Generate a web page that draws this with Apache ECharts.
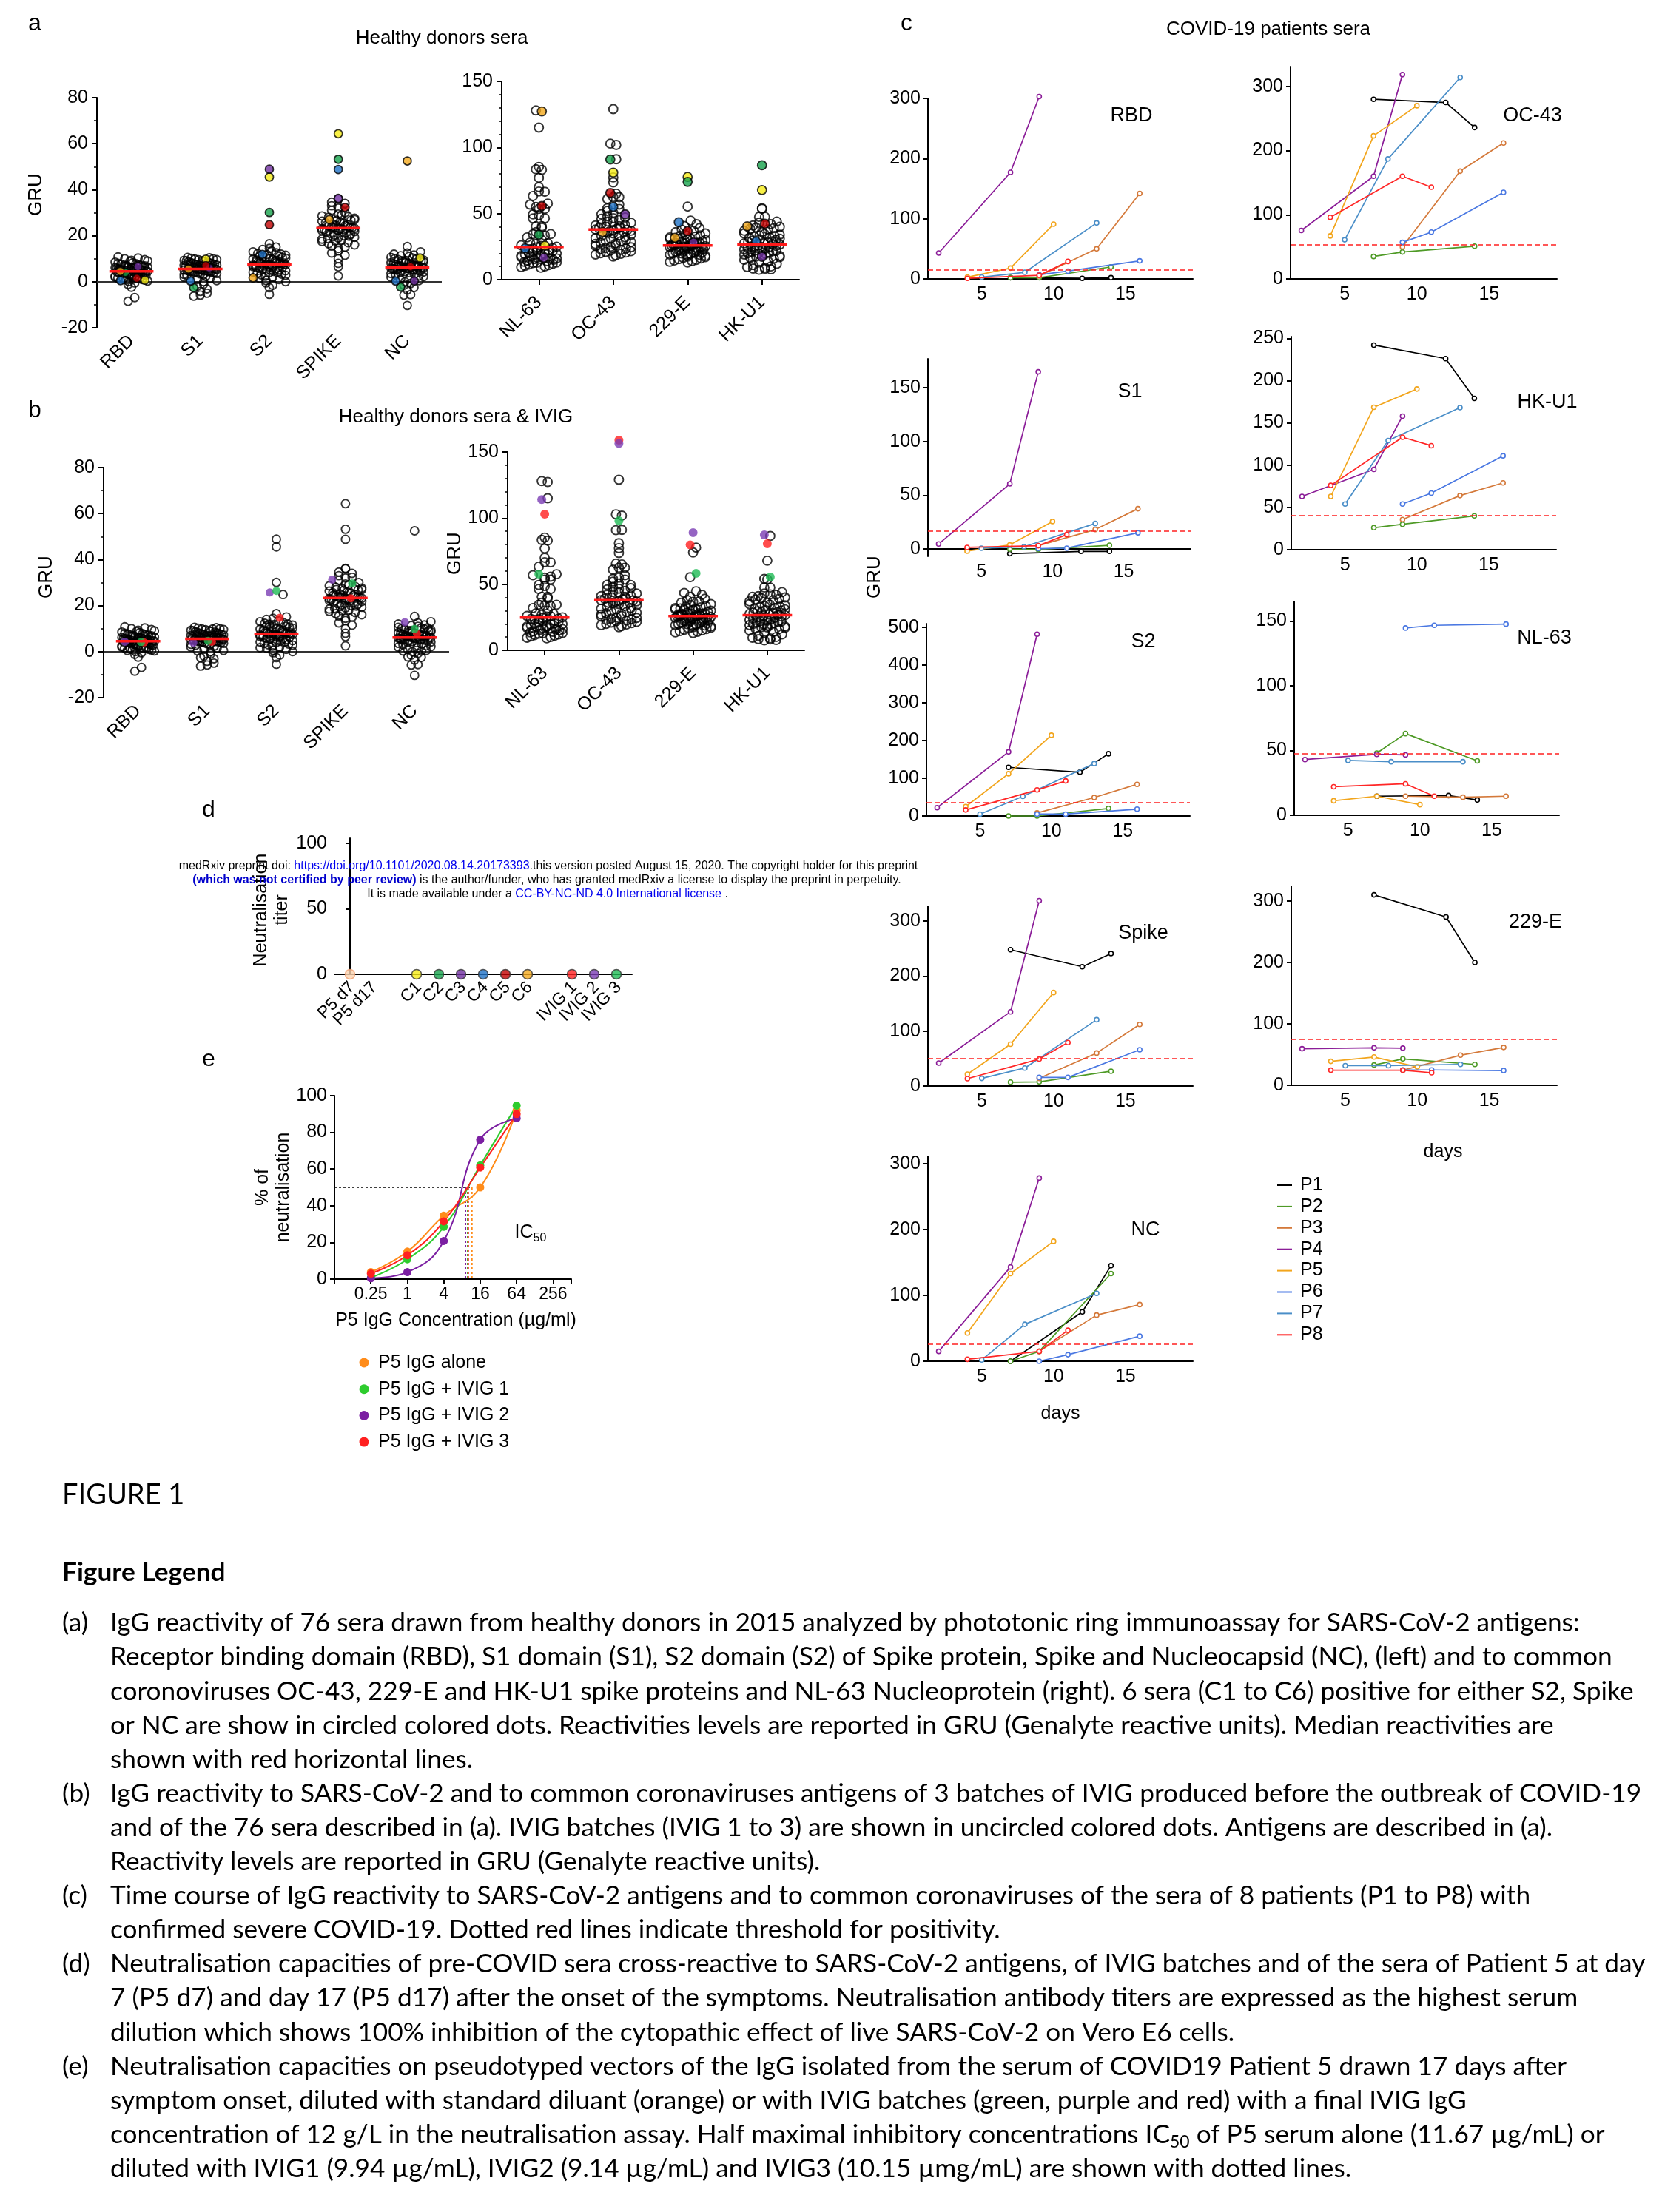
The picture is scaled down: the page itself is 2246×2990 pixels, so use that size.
<!DOCTYPE html>
<html><head><meta charset="utf-8">
<script src="https://cdn.jsdelivr.net/npm/echarts@6/dist/echarts.min.js"></script>
<style>html,body{margin:0;padding:0;background:#fff}#c{width:2246px;height:2990px}</style>
</head><body><div id="c"></div><script>
// ================= DATA =================
const catsSARS = ['RBD','S1','S2','SPIKE','NC'];
const catsCommon = ['NL-63','OC-43','229-E','HK-U1'];
// open circles (healthy donor sera without C1-C6), GRU
const openRBD = [-8.5,-6.9,-2.4,-1.2,-0.5,0,0.3,0.8,1,1.2,1.5,1.6,1.8,2,2.2,2.4,2.6,2.8,2.9,3,3.1,3.3,3.4,3.5,3.6,3.8,3.9,4,4.1,4.2,4.3,4.4,4.5,4.6,4.7,4.8,4.9,5,5.1,5.2,5.3,5.4,5.5,5.6,5.7,5.8,6,6.1,6.2,6.3,6.4,6.5,6.7,6.9,7,7.1,7.2,7.4,7.6,7.8,8,8.2,8.5,8.8,9,9.3,9.6,10,10.3,10.8];
const openS1 = [-6.3,-5.8,-5,-4.2,-3.1,-2,-1,0,0.5,1,1.5,2,2.4,2.8,3,3.2,3.4,3.6,3.8,4,4.1,4.2,4.3,4.4,4.5,4.6,4.7,4.8,4.9,5,5.1,5.2,5.3,5.4,5.5,5.6,5.7,5.8,5.9,6,6.1,6.2,6.3,6.4,6.5,6.6,6.8,7,7.1,7.2,7.4,7.5,7.6,7.8,8,8.1,8.3,8.5,8.6,8.8,9,9.1,9.3,9.5,9.6,9.8,10,10.2,10.4,10.6];
const openS2 = [-5.5,-2.6,-1.5,-0.5,0,0.5,1,1.5,2,2.4,2.8,3,3.3,3.6,3.9,4.2,4.5,4.8,5,5.2,5.4,5.6,5.8,6,6.2,6.4,6.6,6.8,7,7.1,7.2,7.3,7.4,7.5,7.6,7.7,7.8,7.9,8,8.2,8.4,8.6,8.8,9,9.2,9.4,9.6,9.8,10,10.2,10.4,10.6,10.8,11,11.2,11.5,11.8,12,12.3,12.6,13,13.4,14,14.5,15.1,16.5,6.1,6.9,8.1,4];
const openSPIKE = [2.5,6.5,8,10,11.5,12.5,13.5,14.5,15,15.5,16,16.5,17,17.5,18,18.5,19,19.3,19.6,20,20.3,20.6,21,21.3,21.6,22,22.2,22.4,22.6,22.8,23,23.1,23.2,23.3,23.4,23.5,23.6,23.8,24,24.2,24.4,24.6,24.8,25,25.3,25.6,26,26.3,26.6,27,27.3,27.6,28,28.3,28.6,29,29.4,30,31,32,33,34,34.6,36,21.8,24.5,19.8,18.8,26.8,17.8];
const openNC = [-10.3,-5.8,-5.6,-3.6,-2.5,-1.5,-0.8,0,0.5,1,1.5,2,2.5,3,3.3,3.6,3.9,4.2,4.4,4.6,4.8,5,5.1,5.2,5.3,5.4,5.5,5.6,5.7,5.8,5.9,6,6.1,6.2,6.3,6.4,6.5,6.6,6.7,6.8,6.9,7,7.2,7.4,7.6,7.8,8,8.2,8.4,8.6,8.8,9,9.2,9.4,9.6,9.8,10,10.3,10.6,11,11.3,11.6,12,12.5,13,15.3,2.2,4,7.1,9.1];
const openNL63 = [128,115,85.3,83.5,83,77,70,66.7,66.5,63.3,57.6,56.8,55,53.5,53.5,49.4,48.6,46.4,46.4,40.4,40.4,39.3,36,34.5,34.5,33.5,32,30,28,27,26,25.5,25,24.5,24,23,22.5,22,21.5,21,20.5,20,19.5,19,18.5,18,17.5,17,16.5,16,15.5,15,14.5,14,13.5,13,12.5,12,11.5,11,10.5,10,9.5,9,27.5,23.5,19.8,17.8,15.8,12.8];
const openOC43 = [129,102.9,101.9,91.1,77.3,73.6,65,62.4,62.4,61,56.8,54,53.5,52,50.5,49.5,48,47,46,45,44,43,42,41.5,41,40.5,40,39.5,39,38.5,38,37.5,37,36.5,36,35,34,33,32,31,30,29.5,29,28,27.5,27,26,25.5,25,24.5,24,23.5,23,22.5,22,21.5,21,20.5,20,19.5,19,18.3,17.5,43.5,37.8,33.5,28.5,35.5,46.5,31.5];
const open229E = [55.3,44.7,42,40.5,39,38,37,36,35,34,33.5,33,32.5,32,31.5,31,30.5,30,29.5,29,28.5,28,27.8,27.5,27.2,27,26.8,26.5,26.3,26,25.8,25.5,25.3,25,24.8,24.5,24.2,24,23.5,23,22.5,22,21.5,21,20.5,20,19.5,19,18.5,18,17.5,17,16.5,16,15.5,15,14.5,14,13.5,13,26.2,25.6,24.6,23.8,22.8,21.8,20.8,19.8,18.8,30.8];
const openHKU1 = [54,53.5,47.5,47.5,44,43,42,41,40,39.5,39,38.5,38,37,36,35,34.5,34,33.5,33,32.5,32,31.5,31,30.5,30,29.5,29,28.5,28,27.5,27,26.5,26,25.5,25,24.5,24,23.5,23,22.5,22,21.5,21,20.5,20,19.5,19,18.5,18,17.5,17,16.5,16,15,14,13,12,11,10,9.5,9,8.4,8.2,7.8,7.5,26.8,24.8,21.8,19.8];
// cross-reactive sera C1..C6
const seraLabels = ['C1','C2','C3','C4','C5','C6'];
const seraRBD = [0.7,4,6.5,0.5,1.5,4.5];
const seraS1 = [9.8,-2.6,6,0.3,7,5.5];
const seraS2 = [45.5,30.1,48.9,11.9,24.8,1.7];
const seraSPIKE = [64.3,53.2,36.2,48.8,32.3,27];
const seraNC = [10.3,-2.3,0.3,0.3,6.5,52.5];
const seraNL63 = [25.7,33.9,16.6,23.7,55.7,127.3];
const seraOC43 = [81,90.9,49.4,55,65.6,36];
const sera229E = [77.7,74,28,43.4,36.7,31.7];
const seraHKU1 = [67.8,86.5,17.3,28.9,42.3,40.4];
// IVIG batches 1..3
const ivigLabels = ['IVIG 1','IVIG 2','IVIG 3'];
const ivigRBD = [4,4.3,4.2];
const ivigS1 = [4.3,3.9,4.7];
const ivigS2 = [14.7,25.7,26.4];
const ivigSPIKE = [23.2,31.3,29.7];
const ivigNC = [7.7,12.8,9.9];
const ivigNL63 = [103,114,57.6];
const ivigOC43 = [159,156.5,98];
const ivig229E = [79.7,89,58.2];
const ivigHKU1 = [80.6,87.3,55.4];
// COVID-19 patients time course (days after onset)
const patients = ['P1','P2','P3','P4','P5','P6','P7','P8'];
const patientDays = [[7,12,14],[7,9,14],[9,13,16],[2,7,9],[4,7,10],[9,11,16],[5,8,13],[4,9,11]];
const rbdByPatient = [[2,1,2],[2,2,20],[5,50,142],[43,177,303],[3,18,91],[7,13,30],[3,11,93],[1,6,29]];
const s1ByPatient = [[-4.4,-2.3,-2.3],[-0.2,-0.5,3.4],[3,18,37.4],[4.6,60.5,164.7],[-2,3.7,25.5],[0.3,0.7,15],[0.7,2,23.6],[1.4,3,13.3]];
const s2ByPatient = [[129,116,165],[0,0,20],[8,49,84],[22,170,482],[25,112,214],[5,5,18],[5,52,139],[16,69,93]];
const spikeByPatient = [[248,217,241],[7,7.6,27],[14,60,112],[41.7,135,337],[21.5,76,170],[15.7,15.7,66],[14,32.7,120.6],[13.5,49,79]];
const ncByPatient = [[0,75,145],[0,15,133],[15,70,86],[15,143,278],[43,133,182],[0,10,38],[2,56,103],[3,15,47]];
const oc43ByPatient = [[280,275,236],[35,42,51],[50,168,212],[75.6,160,318.5],[67,223,270],[57,73,135],[61,187,314],[96,160,143]];
const hku1ByPatient = [[242,226,179],[26,30,40],[35.6,64,79],[63,95,158],[63,168.5,190],[54,67,111],[54,129,168],[76,133,123]];
const nl63ByPatient = [[14.7,15.2,11.8],[48,63,42],[14.7,13.9,14.7],[43,47,46.6],[11.2,14.7,8.2],[144.5,146.6,147.5],[42.3,41.3,41.3],[22,24.3,14.7]];
const e229ByPatient = [[310,274,200],[33,43,34],[24.6,49,61.6],[59.5,61,60.4],[39,46,30],[25,25,24],[32,32,34],[24.6,24.6,20.5]];
const thresholds = [14.8,16.7,35,49.8,26,53,40.9,47.4,75.3]; // RBD,S1,S2,Spike,NC,OC-43,HK-U1,NL-63,229-E
// panel d
const neutCats = ['P5 d7','P5 d17','','C1','C2','C3','C4','C5','C6','','IVIG 1','IVIG 2','IVIG 3'];
const neutTiters = [0,null,null,0,0,0,0,0,0,null,0,0,0];
// panel e
const concentrations = [0.25,1,4,16,64];
const neutAlone = [3.8,15,34.6,50,92];
const neutIVIG1 = [0.8,10.8,28.5,62,94.6];
const neutIVIG2 = [0.5,3.8,20.8,76,87.7];
const neutIVIG3 = [3,13,31.5,60.8,90];
const ic50 = [11.67,9.94,9.14,10.15];
const eSeriesNames = ['P5 IgG alone','P5 IgG + IVIG 1','P5 IgG + IVIG 2','P5 IgG + IVIG 3'];

// ================= STYLES =================
const FONT = '"Liberation Sans", Arial, Helvetica, sans-serif';
const seraColors = ['#f6ec16','#17a34c','#7030a0','#1f72c6','#c00000','#f4aa1e'];
const ivigColors = ['#ff1f1f','#7a3db4','#1fba55'];
const patientColors = ['#000000','#4e9a26','#d4793a','#8b1d98','#f2a51c','#4a78e2','#4a8ec8','#ff2626'];
const eColors = ['#ff8c1a','#2ecc2e','#7b1fa2','#ff2020'];

const grids=[], xAxes=[], yAxes=[], series=[], graphics=[];

function median(a){const s=a.slice().sort((x,y)=>x-y);const n=s.length;return n%2?s[(n-1)/2]:(s[n/2-1]+s[n/2])/2;}
function swarm(vals, pxPerUnit, step, halfW, binH){
  const order = vals.map((v,i)=>i).sort((a,b)=>vals[a]-vals[b]);
  const groups = new Map();
  order.forEach(i=>{const b=Math.floor(vals[i]*pxPerUnit/binH); if(!groups.has(b)) groups.set(b,[]); groups.get(b).push(i);});
  const off = new Array(vals.length).fill(0);
  groups.forEach(arr=>{
    arr.sort((a,b)=>((a*37)%79)-((b*37)%79));
    const n=arr.length; const st = n>1?Math.min(step,2*halfW/(n-1)):0;
    arr.forEach((i,k)=>{off[i]=(k-(n-1)/2)*st;});
  });
  return off;
}
function mkTxt(text,x,y,size,o){o=o||{};
  const st={text:text,fontSize:size,fontFamily:o.family||FONT,fontWeight:o.weight||'normal',fill:o.color||'#000',
    align:o.align||'center',verticalAlign:o.valign||'middle',textAlign:o.align||'center',textVerticalAlign:o.valign||'middle'};
  if(o.rich) st.rich=o.rich; if(o.lineHeight) st.lineHeight=o.lineHeight;
  return {type:'text',x:x,y:y,rotation:o.rot||0,z:100,style:st};
}
function txt(text,x,y,size,o){ graphics.push(mkTxt(text,x,y,size,o)); }
const axisStyle={color:'#000',width:2};

function buildScatter(p){
  const gi=grids.length; const n=p.cats.length;
  grids.push({left:p.left,top:p.top,width:p.width,height:p.height});
  const centers=p.cats.map((c,i)=>i+0.5);
  xAxes.push({gridIndex:gi,type:'value',min:0,max:n,
    axisLine:{show:p.xLine,onZero:false,lineStyle:axisStyle},
    axisTick:{show:p.xLine,customValues:centers,length:7,lineStyle:axisStyle},
    axisLabel:{customValues:centers,showMinLabel:true,showMaxLabel:true,formatter:v=>p.cats[Math.round(v-0.5)],rotate:45,fontSize:25,fontFamily:FONT,color:'#000',margin:p.labelMargin},
    splitLine:{show:false}});
  yAxes.push({gridIndex:gi,type:'value',min:p.ymin,max:p.ymax,interval:p.interval,
    axisLine:{show:true,lineStyle:axisStyle},
    axisTick:{show:true,length:7,lineStyle:axisStyle},
    minorTick:{show:true,splitNumber:p.minorSplit,length:4,lineStyle:{color:'#000',width:1.5}},
    axisLabel:{fontSize:25,fontFamily:FONT,color:'#000',margin:12},
    splitLine:{show:false}});
  const ppu=p.height/(p.ymax-p.ymin), band=p.width/n;
  const openPts=[], colPts=[];
  p.cats.forEach((c,ci)=>{
    const o=p.open[ci], s=p.sera[ci], iv=p.ivig?p.ivig[ci]:[];
    const all=o.concat(s,iv);
    const off=swarm(all,ppu,p.step,p.halfW,p.binH);
    all.forEach((v,k)=>{
      const x=ci+0.5+off[k]/band;
      if(k<o.length) openPts.push([x,v]);
      else if(k<o.length+s.length){
        if(p.seraColored) colPts.push({value:[x,v],itemStyle:{color:seraColors[k-o.length],borderColor:'#000',borderWidth:1.8}});
        else openPts.push([x,v]);
      } else colPts.push({value:[x,v],itemStyle:{color:ivigColors[k-o.length-s.length],borderWidth:0}});
    });
  });
  const ser={type:'scatter',xAxisIndex:gi,yAxisIndex:gi,data:openPts,symbolSize:p.dia,clip:false,z:3,
    itemStyle:{color:'rgba(255,255,255,0)',borderColor:'#000',borderWidth:1.9}};
  if(p.zeroLine) ser.markLine={silent:true,symbol:['none','none'],label:{show:false},lineStyle:{color:'#333',width:2,type:'solid'},data:[{yAxis:0}],z:1};
  series.push(ser);
  series.push({type:'scatter',xAxisIndex:gi,yAxisIndex:gi,data:colPts,symbolSize:p.dia,clip:false,z:5});
  const meds=p.cats.map((c,ci)=>[ci,median(p.open[ci].concat(p.sera[ci]))]);
  series.push({type:'custom',xAxisIndex:gi,yAxisIndex:gi,z:6,data:meds,renderItem:(params,api)=>{
    const i=api.value(0), m=api.value(1); const a=api.coord([i+0.5-p.medHalf,m]), b=api.coord([i+0.5+p.medHalf,m]);
    return {type:'line',shape:{x1:a[0],y1:a[1],x2:b[0],y2:b[1]},style:{stroke:'#ff1a1a',lineWidth:3.5}};}});
}

function buildLines(p){
  const gi=grids.length;
  grids.push({left:p.left,top:p.top,width:p.width,height:p.height});
  xAxes.push({gridIndex:gi,type:'value',min:1.25,max:19.7,
    axisLine:{show:true,onZero:true,lineStyle:axisStyle},axisTick:{show:false},
    axisLabel:{customValues:[5,10,15],fontSize:25,fontFamily:FONT,color:'#000',margin:9},splitLine:{show:false}});
  yAxes.push({gridIndex:gi,type:'value',min:p.min,max:p.max,
    axisLine:{show:true,lineStyle:axisStyle},
    axisTick:{show:true,customValues:p.ticks,length:6,lineStyle:axisStyle},
    axisLabel:{customValues:p.ticks,fontSize:25,fontFamily:FONT,color:'#000',margin:10},splitLine:{show:false}});
  patients.forEach((pn,pi)=>{
    const s={type:'line',name:pn,xAxisIndex:gi,yAxisIndex:gi,clip:false,z:3+pi*0.01,
      data:patientDays[pi].map((d,k)=>[d,p.vals[pi][k]]),
      symbol:'circle',symbolSize:6,showSymbol:true,
      lineStyle:{color:patientColors[pi],width:1.7},
      itemStyle:{color:'#fff',borderColor:patientColors[pi],borderWidth:1.6}};
    if(pi===0) s.markLine={silent:true,symbol:['none','none'],label:{show:false},
      lineStyle:{color:'#ff2020',width:1.7,type:[7,4]},data:[{yAxis:p.thr}]};
    series.push(s);
  });
  txt(p.label,p.lx,p.ly,27);
}

// ---------- Panel a ----------
buildScatter({left:131,top:132,width:466,height:311,ymin:-20,ymax:80,interval:20,minorSplit:2,cats:catsSARS,
  open:[openRBD,openS1,openS2,openSPIKE,openNC],sera:[seraRBD,seraS1,seraS2,seraSPIKE,seraNC],ivig:null,seraColored:true,
  xLine:false,zeroLine:true,labelMargin:14,dia:11,step:9,halfW:22,binH:7,medHalf:0.32});
buildScatter({left:678,top:110,width:402,height:268,ymin:0,ymax:150,interval:50,minorSplit:5,cats:catsCommon,
  open:[openNL63,openOC43,open229E,openHKU1],sera:[seraNL63,seraOC43,sera229E,seraHKU1],ivig:null,seraColored:true,
  xLine:true,zeroLine:false,labelMargin:27,dia:12,step:8,halfW:24,binH:8,medHalf:1/3});
// ---------- Panel b ----------
buildScatter({left:140,top:632,width:467,height:311,ymin:-20,ymax:80,interval:20,minorSplit:2,cats:catsSARS,
  open:[openRBD,openS1,openS2,openSPIKE,openNC],sera:[seraRBD,seraS1,seraS2,seraSPIKE,seraNC],
  ivig:[ivigRBD,ivigS1,ivigS2,ivigSPIKE,ivigNC],seraColored:false,
  xLine:false,zeroLine:true,labelMargin:14,dia:11,step:9,halfW:22,binH:7,medHalf:0.32});
buildScatter({left:686,top:611,width:401,height:268,ymin:0,ymax:150,interval:50,minorSplit:5,cats:catsCommon,
  open:[openNL63,openOC43,open229E,openHKU1],sera:[seraNL63,seraOC43,sera229E,seraHKU1],
  ivig:[ivigNL63,ivigOC43,ivig229E,ivigHKU1],seraColored:false,
  xLine:true,zeroLine:false,labelMargin:27,dia:12,step:8,halfW:24,binH:8,medHalf:1/3});

// ---------- Panel c ----------
buildLines({label:'RBD',vals:rbdByPatient,thr:thresholds[0],left:1254,top:133,width:358,height:244,min:0,max:300,ticks:[0,100,200,300],lx:1529,ly:157});
buildLines({label:'S1',vals:s1ByPatient,thr:thresholds[1],left:1254,top:485,width:355,height:267,min:-6.9,max:176.8,ticks:[0,50,100,150],lx:1527,ly:530});
buildLines({label:'S2',vals:s2ByPatient,thr:thresholds[2],left:1252,top:843,width:356,height:260,min:0,max:510,ticks:[0,100,200,300,400,500],lx:1545,ly:868});
buildLines({label:'Spike',vals:spikeByPatient,thr:thresholds[3],left:1254,top:1225,width:358,height:243,min:0,max:327,ticks:[0,100,200,300],lx:1545,ly:1262});
buildLines({label:'NC',vals:ncByPatient,thr:thresholds[4],left:1254,top:1563,width:358,height:277,min:0,max:311,ticks:[0,100,200,300],lx:1548,ly:1663});
buildLines({label:'OC-43',vals:oc43ByPatient,thr:thresholds[5],left:1744,top:90,width:360,height:287,min:0,max:331,ticks:[0,100,200,300],lx:2071,ly:157});
buildLines({label:'HK-U1',vals:hku1ByPatient,thr:thresholds[6],left:1745,top:455,width:358,height:288,min:0,max:252,ticks:[0,50,100,150,200,250],lx:2091,ly:544});
buildLines({label:'NL-63',vals:nl63ByPatient,thr:thresholds[7],left:1749,top:813,width:358,height:289,min:0,max:165,ticks:[0,50,100,150],lx:2087,ly:863});
buildLines({label:'229-E',vals:e229ByPatient,thr:thresholds[8],left:1745,top:1198,width:359,height:269,min:0,max:324,ticks:[0,100,200,300],lx:2075,ly:1247});

// ---------- Panel d ----------
const dGrid = grids.length;
(function(){
  const gi=dGrid;
  grids.push({left:452,top:1133,width:402,height:184});
  xAxes.push({gridIndex:gi,type:'value',min:-0.7,max:12.7,axisLine:{show:true,onZero:false,lineStyle:axisStyle},axisTick:{show:false},
    axisLabel:{show:false},splitLine:{show:false}});
  yAxes.push({gridIndex:gi,type:'value',min:0,max:104,axisLine:{show:true,lineStyle:axisStyle},
    axisTick:{show:true,customValues:[0,50,100],length:6,lineStyle:axisStyle},
    axisLabel:{customValues:[0,50,100],fontSize:25,fontFamily:FONT,color:'#000',margin:10},splitLine:{show:false}});
  const cols=['#fbd3b0',null,null].concat(seraColors,[null],ivigColors);
  const data=[];
  neutTiters.forEach((v,i)=>{ if(v!==null) data.push({value:[i,v],itemStyle:{color:cols[i],borderColor:i===0?'#f0a070':'#333',borderWidth:1.5}}); });
  series.push({type:'scatter',xAxisIndex:gi,yAxisIndex:gi,data:data,symbolSize:13,clip:false,z:5});
})();

// ---------- Panel e ----------
(function(){
  const gi=grids.length;
  grids.push({left:452,top:1481,width:320,height:248});
  const L=[0.25,1,4,16,64,256];
  xAxes.push({gridIndex:gi,type:'log',logBase:4,min:0.0625,max:512,axisLine:{show:true,onZero:false,lineStyle:axisStyle},
    axisTick:{show:true,length:6,lineStyle:axisStyle},minorTick:{show:false},
    axisLabel:{fontSize:23,fontFamily:FONT,color:'#000',margin:9,formatter:v=>{const f=L.find(l=>Math.abs(Math.log(v/l))<1e-4);return f===undefined?'':String(f);}},
    splitLine:{show:false}});
  yAxes.push({gridIndex:gi,type:'value',min:0,max:100,interval:20,axisLine:{show:true,lineStyle:axisStyle},
    axisTick:{show:true,length:6,lineStyle:axisStyle},axisLabel:{fontSize:25,fontFamily:FONT,color:'#000',margin:10},splitLine:{show:false}});
  const sets=[neutAlone,neutIVIG1,neutIVIG2,neutIVIG3];
  sets.forEach((s,si)=>{
    series.push({type:'line',name:eSeriesNames[si],xAxisIndex:gi,yAxisIndex:gi,smooth:0.45,clip:false,z:4,
      data:concentrations.map((c,k)=>[c,s[k]]),symbol:'circle',symbolSize:11,
      lineStyle:{color:eColors[si],width:2},itemStyle:{color:eColors[si],borderWidth:0}});
  });
  series.push({type:'line',xAxisIndex:gi,yAxisIndex:gi,data:[[0.0625,50],[Math.max.apply(null,ic50),50]],symbol:'none',z:3,
    lineStyle:{color:'#000',width:1.5,type:[3,3]}});
  ic50.forEach((v,i)=>series.push({type:'line',xAxisIndex:gi,yAxisIndex:gi,data:[[v,50],[v,0]],symbol:'none',z:3,
    lineStyle:{color:eColors[i],width:2,type:[3,3]}}));
})();

// ================= TEXT =================
txt('a',47,32,32); txt('b',47,555,32); txt('c',1225,32,32); txt('d',282,1095,32); txt('e',282,1432,32);
txt('Healthy donors sera',597,52,26);
txt('Healthy donors sera & IVIG',616,564,26);
txt('COVID-19 patients sera',1714,40,26);
txt('GRU',49,263,26,{rot:Math.PI/2});
txt('GRU',63,780,26,{rot:Math.PI/2});
txt('GRU',615,748,26,{rot:Math.PI/2});
txt('GRU',1182,780,26,{rot:Math.PI/2});
txt('days',1433,1911,25); txt('days',1950,1557,25);
patients.forEach((pn,i)=>{const y=1602+i*28.9;
  graphics.push({type:'line',z:100,shape:{x1:1726,y1:y,x2:1746,y2:y},style:{stroke:patientColors[i],lineWidth:2}});
  txt(pn,1757,y,25,{align:'left'});});
txt('Neutralisation',353,1230,25,{rot:Math.PI/2});
txt('titer',381,1230,25,{rot:Math.PI/2});
txt('% of',355,1605,25,{rot:Math.PI/2});
txt('neutralisation',383,1605,25,{rot:Math.PI/2});
txt('P5 IgG Concentration (µg/ml)',616,1785,25);
txt('IC{s|50}',717,1666,25,{lineHeight:32,rich:{s:{fontSize:16,lineHeight:16,verticalAlign:'bottom',fontFamily:FONT,fill:'#000'}}});
eSeriesNames.forEach((nm,i)=>{const y=1842+i*35.7;
  graphics.push({type:'circle',z:100,shape:{cx:492,cy:y,r:6.5},style:{fill:eColors[i]}});
  txt(nm,511,y,25,{align:'left'});});
// medRxiv header
const wm1='medRxiv preprint doi: {b|https://doi.org/10.1101/2020.08.14.20173393}.this version posted August 15, 2020. The copyright holder for this preprint';
const wm2='{bb|(which was not certified by peer review)} is the author/funder, who has granted medRxiv a license to display the preprint in perpetuity.';
const wm3='It is made available under a {b|CC-BY-NC-ND 4.0 International license} .';
const wmRich={b:{fill:'#0000ee',fontSize:16,fontFamily:FONT},bb:{fill:'#0000cc',fontSize:16,fontFamily:FONT,fontWeight:'bold'}};
txt(wm1,741,1171,16,{rich:wmRich}); txt(wm2,739,1190,16,{rich:wmRich}); txt(wm3,740,1209,16,{rich:wmRich});
// Figure legend
const LF='Lato, "Open Sans", sans-serif';
const legendLines=[
['(a)','IgG reactivity of 76 sera drawn from healthy donors in 2015 analyzed by phototonic ring immunoassay for SARS-CoV-2 antigens:'],
['','Receptor binding domain (RBD), S1 domain (S1), S2 domain (S2) of Spike protein, Spike and Nucleocapsid (NC), (left) and to common'],
['','coronoviruses OC-43, 229-E and HK-U1 spike proteins and NL-63 Nucleoprotein (right). 6 sera (C1 to C6) positive for either S2, Spike'],
['','or NC are show in circled colored dots. Reactivities levels are reported in GRU (Genalyte reactive units). Median reactivities are'],
['','shown with red horizontal lines.'],
['(b)','IgG reactivity to SARS-CoV-2 and to common coronaviruses antigens of 3 batches of IVIG produced before the outbreak of COVID-19'],
['','and of the 76 sera described in (a). IVIG batches (IVIG 1 to 3) are shown in uncircled colored dots. Antigens are described in (a).'],
['','Reactivity levels are reported in GRU (Genalyte reactive units).'],
['(c)','Time course of IgG reactivity to SARS-CoV-2 antigens and to common coronaviruses of the sera of 8 patients (P1 to P8) with'],
['','confirmed severe COVID-19. Dotted red lines indicate threshold for positivity.'],
['(d)','Neutralisation capacities of pre-COVID sera cross-reactive to SARS-CoV-2 antigens, of IVIG batches and of the sera of Patient 5 at day'],
['','7 (P5 d7) and day 17 (P5 d17) after the onset of the symptoms. Neutralisation antibody titers are expressed as the highest serum'],
['','dilution which shows 100% inhibition of the cytopathic effect of live SARS-CoV-2 on Vero E6 cells.'],
['(e)','Neutralisation capacities on pseudotyped vectors of the IgG isolated from the serum of COVID19 Patient 5 drawn 17 days after'],
['','symptom onset, diluted with standard diluant (orange) or with IVIG batches (green, purple and red) with a final IVIG IgG'],
['','concentration of 12 g/L in the neutralisation assay. Half maximal inhibitory concentrations IC{s|50} of P5 serum alone (11.67 µg/mL) or'],
['','diluted with IVIG1 (9.94 µg/mL), IVIG2 (9.14 µg/mL) and IVIG3 (10.15 µmg/mL) are shown with dotted lines.']];
const cv=document.createElement('canvas').getContext('2d');
cv.font='100px '+LF;
let maxW=0; legendLines.forEach(l=>{maxW=Math.max(maxW,cv.measureText(l[1].replace('{s|50}','50')).width);});
const LS=Math.min(40,100*2075/maxW);
legendLines.forEach((l,i)=>{const y=2194+i*46.1;
  if(l[0]) txt(l[0],84,y,LS,{align:'left',family:LF});
  txt(l[1],149,y,LS,{align:'left',family:LF,lineHeight:LS*1.25,rich:{s:{fontSize:LS*0.65,lineHeight:LS*0.65,verticalAlign:'bottom',fontFamily:LF,fill:'#000'}}});});
txt('FIGURE 1',84,2021,38,{align:'left',family:LF});
txt('Figure Legend',84,2126,LS,{align:'left',family:LF,weight:'bold'});

const chart=echarts.init(document.getElementById('c'),null,{renderer:'canvas'});
chart.setOption({animation:false,backgroundColor:'#fff',grid:grids,xAxis:xAxes,yAxis:yAxes,series:series,graphic:{elements:graphics}});
// panel d category labels, positioned through the axis scale
const dLabels=[];
neutCats.forEach((c,i)=>{ if(!c) return; const p=chart.convertToPixel({gridIndex:dGrid},[i,0]);
  dLabels.push(mkTxt(c,p[0]+3,p[1]+14,23,{align:'right',rot:Math.PI/4})); });
chart.setOption({graphic:{elements:graphics.concat(dLabels)}});
</script></body></html>
